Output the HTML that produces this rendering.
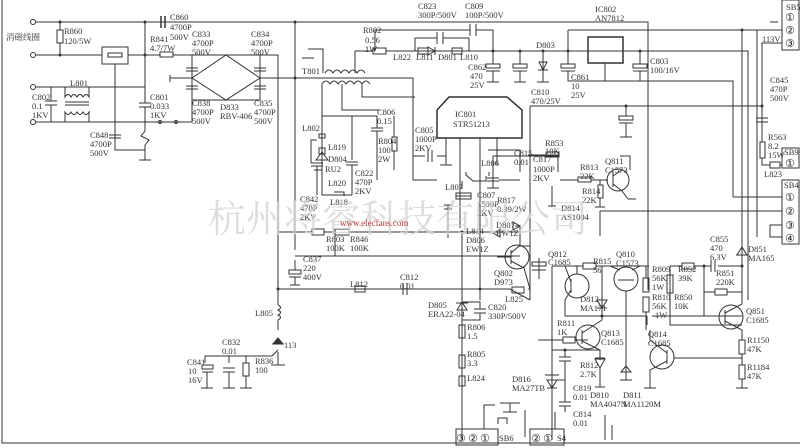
<!DOCTYPE html>
<html><head><meta charset="utf-8"><style>
html,body{margin:0;padding:0;background:#fff;}
svg{display:block;}
text{font-family:"Liberation Serif","Noto Serif CJK SC",serif;font-size:8.5px;fill:#333;}
.c{font-family:"DejaVu Sans",sans-serif;font-size:11px;fill:#222;}
</style></head><body>
<svg width="800" height="448" viewBox="0 0 800 448" xmlns="http://www.w3.org/2000/svg">
<g stroke="#333" stroke-width="1" fill="none">
<path d="M2,0 V443 H800"/>
<circle cx="33" cy="22" r="2.5"/><circle cx="33" cy="55" r="2.5"/>
<circle cx="33" cy="87" r="2.5"/><circle cx="33" cy="122" r="2.5"/>
<path d="M36,22 H648 V290"/>
<path d="M36,55 H102 M128,55 H160 M173,55 H278 V305"/>
<path d="M278,320 V330 M278,352 V365 M271,365 H285"/>
<path d="M278,305 q5,2.5 0,5 q5,2.5 0,5 q5,2.5 0,5"/>
<path d="M272,344 H284 M278,338 L273,344 H283 Z" fill="#333"/>
<path d="M278,350 L272,356 H205 V363 M229,356 V363 M246,356 V363"/>
<rect x="202" y="365" width="11" height="4"/><path d="M202,372 H213 M207,372 V388 M201,388 H213"/>
<path d="M223,368 H235 M223,372 H235 M229,372 V388 M223,388 H235"/>
<rect x="243" y="363" width="6" height="13"/><path d="M246,376 V388 M240,388 H252"/>
<path d="M60,22 V30 M60,43 V55"/><rect x="57" y="30" width="6" height="13"/>
<rect x="102" y="47" width="26" height="17"/><rect x="108" y="53" width="14" height="4"/>
<path d="M115,64 V150 M115,132 V135 M109,135 H121 M109,138 H121 M115,138 V150 H145"/>
<path d="M161,16 V28 M165,16 V28" stroke-width="1.5"/>
<rect x="160" y="52" width="13" height="5"/>
<path d="M36,87 H90 M36,122 H90 M51,87 V101 M45,101 H57 M45,105 H57 M51,105 V122"/>
<path d="M65,87 V97 q3,-5 6,0 q3,-5 6,0 q3,-5 6,0 q3,-5 6,0 V87 M65,122 V112 q3,5 6,0 q3,5 6,0 q3,5 6,0 q3,5 6,0 V122"/>
<path d="M65,102 H89 M65,105 H89"/>
<path d="M90,87 H145 M90,122 H192 V100"/>
<path d="M145,22 V103 M139,103 H151 M139,107 H151 M145,107 V131 l-4,5 l8,4 l-4,5 V160 M139,160 H151"/>
<path d="M158,122 H172"/><circle cx="160" cy="122" r="1.5"/><circle cx="176" cy="122" r="1.5"/>
<path d="M192,78 L226,55 L260,78 L226,100 Z"/>
<path d="M192,55 V100 H226 M186,68 H198 M186,71 H198 M186,86 H198 M186,89 H198"/>
<path d="M260,55 V100 H226 M254,68 H266 M254,71 H266 M254,86 H266 M254,89 H266"/>
<path d="M170,78 H192 M170,75 V82 M260,78 H413 V180 H437"/>
<path d="M295,22 V250"/>
<path d="M308,49 H323 V73 M302,58 H314"/>
<path d="M325,73 q4,-6 8,0 q4,-6 8,0 q4,-6 8,0 q4,-6 8,0 q4,-6 8,0 M355,73 V51"/>
<path d="M322,84 q4,-6 8,0 q4,-6 8,0 q4,-6 8,0 q4,-6 8,0 q4,-6 8,0 q4,-6 8,0"/>
<path d="M322,84 V195 M342,84 V110 H380 M362,84 V97 H415"/>
<path d="M322,116 H377 V128 M371,128 H383 M371,131 H383 M377,131 V145 V180"/>
<rect x="392" y="137" width="5" height="14"/><path d="M394,116 V137 M394,151 V170"/>
<path d="M352,116 V160 M346,162 H358 M346,165 H358 M352,165 V195"/>
<path d="M322,130 V134 M319,134 H325 V138 H319 Z M322,138 V148 M319,148 H325 V154 H319 Z"/>
<path d="M314,170 H322 M311,163 H323 M311,166 H323 M317,140 H311 V163 M317,166 V195"/>
<path d="M316,160 L322,152 L328,160 Z"/>
<path d="M322,195 H352 M334,192 H344 V196"/>
<path d="M355,51 H373 M386,51 H748 V300"/><rect x="373" y="48" width="13" height="6"/>
<path d="M415,51 V38 H437 M443,38 H469 V51 M437,32 V44 M443,32 V44"/>
<path d="M375,51 V30 H470 M476,30 H493 V51 M470,24 V36 M476,24 V36"/>
<rect x="418" y="48" width="10" height="6"/><rect x="452" y="48" width="10" height="6"/>
<path d="M435,47 V55 M428,47 L435,51 L428,55 Z"/>
<path d="M493,51 V64 M486,64 H500 V68 H486 Z M486,71 H500 M493,71 V82 M487,82 H499"/>
<path d="M520,51 V64 M513,64 H527 V68 H513 Z M513,71 H527 M520,71 V82 M514,82 H526"/>
<path d="M543,51 V82 M537,82 H549 M538,70 H548 M539,62 H547 L543,70 Z"/>
<path d="M568,30 V64 M561,64 H575 V68 H561 Z M561,71 H575 M568,71 V81 H640"/>
<rect x="588" y="37" width="35" height="26" stroke-width="1.5"/>
<path d="M605,63 V81 M640,51 V64 M633,64 H647 V68 H633 Z M633,71 H647 M640,71 V81 H733 V197"/>
<path d="M568,30 H742 V300 M762,106 V43 H782 M530,106 H762 V142 M760,142 H765 V158 H760 Z M762,158 V165 H770 M780,165 H782"/>
<rect x="770" y="162" width="10" height="6"/>
<path d="M756,118 H768 M756,122 H768 M762,122 V132"/>
<path d="M626,106 V116 M619,116 H633 V120 H619 Z M619,123 H633 M626,123 V137 M620,137 H632"/>
<path d="M530,106 V300"/>
<path d="M770,22 H778"/>
<path d="M742,30 H782"/>
<path d="M437,110 L449,97 H507 L522,110 V138 H437 Z" stroke-width="1.5"/>
<path d="M413,156 H425 M428,150 V162 M432,150 V162 M437,156 H446 M446,138 V165 M440,165 H452"/>
<path d="M460,138 V228 M480,138 V300 M497,138 V165 M493,178 V156 H530"/>
<path d="M488,150 H520 V172 M466,172 V175 L473,181 H486 V176 M489,172 V176"/>
<path d="M493,168 V188 M487,178 H499 M487,181 H499 M493,181 V188 M487,188 H499 M499,180 H520"/>
<path d="M527,156 H558 M545,156 H558 M528,155 H558 V172 M560,180 H578 M552,186 V206 M548,206 H556"/>
<rect x="546" y="152" width="13" height="5"/><rect x="578" y="177" width="13" height="5"/>
<rect x="598" y="185" width="5" height="13"/><path d="M591,180 H608 M600,180 V185 M600,198 V207 M595,207 H605"/>
<circle cx="618" cy="180" r="11"/>
<path d="M613,173 V187 M613,176 L622,170 M613,184 L622,191 L628,199 M620,156 H630 V170 M628,199 H636"/>
<path d="M448,205 V238 M444,205 H452 M444,209 H452 M456,196 H471 M471,193 V199 M462,181 V189"/>
<rect x="456" y="193" width="15" height="6"/>
<path d="M278,232 H312 M324,232 H335 M350,232 H520 M278,289 H510 M295,256 H520 M335,232 V256"/>
<rect x="312" y="229" width="12" height="6"/><rect x="335" y="229" width="14" height="6"/>
<rect x="355" y="286" width="10" height="6"/><path d="M403,283 V295 M407,283 V295"/>
<path d="M295,260 V270 M289,270 H301 V274 H289 Z M289,277 H301 M295,277 V285 M290,285 H300"/>
<path d="M462,232 V440 M462,300 V310 M456,303 H468 M457,310 H467 L462,302 Z M462,302 H480 V309 M474,309 H486 M474,313 H486 M480,313 V320 H462"/>
<rect x="459" y="325" width="6" height="13"/><rect x="459" y="355" width="6" height="13"/><rect x="459" y="376" width="6" height="10"/>
<path d="M480,228 V300 M470,289 H510 L530,300 M528,289 H530"/>
<rect x="512" y="287" width="12" height="6"/>
<circle cx="517" cy="257" r="12"/>
<path d="M511,250 V264 M511,253 L519,246 H530 M511,261 L524,268 L530,289 M497,257 H511 M515,226 H520 V246"/>
<path d="M493,233 L500,229 V237 Z M520,226 L513,230 V222 Z"/>
<path d="M539,258 V270 M532,262 H546 V266 H532 Z M532,270 H546 M539,270 V279"/>
<path d="M552,266 H583 M596,266 H647 M552,266 V440 M538,340 H563 M575,340 H588"/>
<rect x="583" y="263" width="13" height="6"/><rect x="563" y="337" width="12" height="6"/>
<circle cx="577" cy="286" r="12"/>
<path d="M571,279 V293 M571,282 L565,266 M571,290 L565,300 V316 H647 M577,266 V274 M602,266 V320"/>
<path d="M597,300 H607 L602,308 Z M597,308 H607"/>
<circle cx="626" cy="279" r="12"/>
<path d="M618,280 H634 M620,270 L610,266 M632,270 L640,266 M626,291 V316 M626,316 V380 M620,380 H632 M621,372 H631 L626,366 Z"/>
<circle cx="588" cy="337" r="12"/>
<path d="M582,330 V344 M582,333 L602,320 M582,341 L600,350 V360 M595,359 H605 L600,368 Z M595,358 H605 M600,368 V387 M595,387 H605 M552,350 H600"/>
<path d="M565,350 V357 M559,357 H571 M559,361 H571 M565,361 V380 H552 M565,380 V402 M559,402 H571 M559,406 H571 M565,406 V412"/>
<path d="M545,375 H559 M547,380 L552,388 L557,380 Z M547,388 H557"/>
<path d="M646,266 V278 M643,266 H649 M643,278 H649 V292 H643 Z M643,297 H649 V312 H643 Z M646,312 V330"/>
<circle cx="662" cy="357" r="12"/>
<path d="M667,350 V364 M667,353 L650,340 V330 M667,361 L650,370 V388 M644,388 H656 M674,358 H742"/>
<path d="M670,266 V325 H742 M670,266 H682 M694,266 H704 M698,266 H711 M718,266 H742"/>
<rect x="682" y="263" width="12" height="6"/><rect x="667" y="275" width="6" height="18"/>
<path d="M711,260 V272 M715,260 V272 M704,266 V316 H720 M704,292 H715 M727,292 H742"/>
<rect x="715" y="289" width="12" height="6"/>
<circle cx="731" cy="317" r="12"/>
<path d="M725,310 V324 M725,313 L742,304 V230 M725,321 L742,330 V340 M742,266 V240 M736,255 H748 M737,255 L742,247 L747,255 Z"/>
<rect x="739" y="340" width="6" height="14"/><path d="M742,354 V365"/><rect x="739" y="365" width="6" height="14"/><path d="M742,379 V388 M736,388 H748"/>
<path d="M605,415 V440 M612,425 V440 M525,437 V410 M500,403 H510 V412 M503,412 H517 M505,403 H520"/>
<path d="M647,316 V325 M652,316 H742"/>
<path d="M733,197 H782 M757,30 V237 M757,211 H782 M770,225 H782 M770,225 V237 H782 M600,211 H757 M600,211 V236"/>
<rect x="782" y="0" width="17" height="50"/>
<rect x="782" y="148" width="17" height="20"/>
<rect x="782" y="180" width="17" height="64"/>
<rect x="456" y="429" width="42" height="16"/><rect x="530" y="429" width="34" height="16"/>
<path d="M484,429 V405 H495 M555,429 V412"/>
<path d="M498,424 V418 H507 V424"/>
</g>
<g fill="#333">
<circle cx="145" cy="22" r="1.5"/><circle cx="145" cy="55" r="1.5"/><circle cx="60" cy="22" r="1.5"/><circle cx="60" cy="55" r="1.5"/>
<circle cx="295" cy="22" r="1.5"/><circle cx="295" cy="78" r="1.5"/><circle cx="278" cy="289" r="1.5"/><circle cx="462" cy="232" r="1.5"/>
<circle cx="493" cy="51" r="1.5"/><circle cx="520" cy="51" r="1.5"/><circle cx="543" cy="51" r="1.5"/><circle cx="568" cy="51" r="1.5"/><circle cx="640" cy="51" r="1.5"/>
<circle cx="762" cy="106" r="1.5"/><circle cx="626" cy="106" r="1.5"/><circle cx="742" cy="30" r="1.5"/><circle cx="480" cy="289" r="1.5"/>
<circle cx="565" cy="350" r="1.5"/><circle cx="602" cy="316" r="1.5"/><circle cx="742" cy="266" r="1.5"/><circle cx="704" cy="266" r="1.5"/>
</g>
<g>
<text x="6" y="40" font-size="9">消磁线圈</text>
<text x="64" y="34">R860</text><text x="64" y="44">120/5W</text>
<text x="170" y="20">C860</text><text x="170" y="30">4700P</text><text x="170" y="40">500V</text>
<text x="150" y="42">R841</text><text x="150" y="51">4.7/7W</text>
<text x="192" y="37">C833</text><text x="192" y="46">4700P</text><text x="192" y="55">500V</text>
<text x="251" y="37">C834</text><text x="251" y="46">4700P</text><text x="251" y="55">500V</text>
<text x="70" y="86">L801</text>
<text x="32" y="100">C802</text><text x="32" y="109">0.1</text><text x="32" y="118">1KV</text>
<text x="150" y="100">C801</text><text x="150" y="109">0.033</text><text x="150" y="118">1KV</text>
<text x="192" y="106">C838</text><text x="192" y="115">4700P</text><text x="192" y="124">500V</text>
<text x="220" y="110">D833</text><text x="220" y="119">RBV-406</text>
<text x="254" y="106">C835</text><text x="254" y="115">4700P</text><text x="254" y="124">500V</text>
<text x="90" y="138">C848</text><text x="90" y="147">4700P</text><text x="90" y="156">500V</text>
<text x="302" y="74">T801</text>
<text x="302" y="131">L802</text><text x="328" y="150">L819</text><text x="328" y="162">D804</text><text x="325" y="172">RU2</text><text x="328" y="186">L820</text>
<text x="355" y="176">C822</text><text x="355" y="185">470P</text><text x="355" y="194">2KV</text>
<text x="300" y="202">C842</text><text x="300" y="211">470P</text><text x="300" y="220">2KV</text><text x="330" y="205">L818</text>
<text x="377" y="115">C806</text><text x="377" y="124">0.15</text>
<text x="378" y="144">R804</text><text x="378" y="153">100</text><text x="378" y="162">2W</text>
<text x="363" y="33">R802</text><text x="365" y="43">0.56</text><text x="365" y="52">1W</text>
<text x="418" y="9">C823</text><text x="418" y="18">300P/500V</text><text x="465" y="9">C809</text><text x="465" y="18">100P/500V</text>
<text x="393" y="60">L822</text><text x="416" y="60">L811</text><text x="438" y="60">D801</text><text x="460" y="60">L810</text>
<text x="468" y="70">C862</text><text x="470" y="79">470</text><text x="470" y="88">25V</text>
<text x="531" y="95">C810</text><text x="531" y="104">470/25V</text>
<text x="536" y="48">D803</text>
<text x="595" y="12">IC802</text><text x="595" y="21">AN7812</text>
<text x="571" y="80">C861</text><text x="571" y="89">10</text><text x="571" y="98">25V</text>
<text x="650" y="64">C803</text><text x="650" y="73">100/16V</text>
<text x="455" y="117">IC801</text><text x="453" y="127">STR51213</text>
<text x="415" y="133">C805</text><text x="415" y="142">1000P</text><text x="415" y="151">2KV</text>
<text x="481" y="166">L806</text><text x="445" y="190">L807</text>
<text x="514" y="156">C815</text><text x="514" y="165">0.01</text>
<text x="533" y="162">C817</text><text x="533" y="172">1000P</text><text x="533" y="181">2KV</text>
<text x="545" y="146">R853</text><text x="545" y="154">10K</text>
<text x="580" y="170">R813</text><text x="580" y="179">22K</text><text x="582" y="194">R814</text><text x="582" y="203">22K</text>
<text x="605" y="164">Q811</text><text x="605" y="173">C1573</text>
<text x="477" y="198">C807</text><text x="477" y="207">1500P</text><text x="477" y="216">2KV</text>
<text x="497" y="203">R817</text><text x="497" y="212">0.39/2W</text>
<text x="561" y="211">D814</text><text x="561" y="220">AS1004</text>
<text x="786" y="10" font-size="7">SB5</text><text class="c" x="785" y="21">①</text><text class="c" x="785" y="34">②</text><text class="c" x="785" y="47">③</text>
<text x="762" y="42">113V</text>
<text x="770" y="83">C845</text><text x="770" y="92">470P</text><text x="770" y="101">500V</text>
<text x="768" y="140">R563</text><text x="768" y="149">8.2</text><text x="768" y="158">15W</text><text x="764" y="177">L823</text>
<text x="784" y="155" font-size="7">SB9</text><text class="c" x="785" y="167">①</text>
<text x="784" y="188" font-size="7">SB4</text><text class="c" x="785" y="201">①</text><text class="c" x="785" y="215">②</text><text class="c" x="785" y="229">③</text><text class="c" x="785" y="242">④</text>
<text x="326" y="242">R803</text><text x="326" y="251">100K</text><text x="350" y="242">R846</text><text x="350" y="251">100K</text>
<text x="303" y="262">C837</text><text x="303" y="271">220</text><text x="303" y="280">400V</text>
<text x="350" y="287">L812</text><text x="400" y="280">C812</text><text x="400" y="289">0.01</text>
<text x="466" y="234">L814</text><text x="466" y="243">D806</text><text x="466" y="252">EW1Z</text>
<text x="496" y="228">D807</text><text x="496" y="236">EW1Z</text>
<text x="494" y="276">Q802</text><text x="494" y="285">D973</text><text x="505" y="302">L825</text>
<text x="428" y="308">D805</text><text x="428" y="317">ERA22-04</text><text x="488" y="310">C820</text><text x="488" y="319">330P/500V</text>
<text x="467" y="330">R806</text><text x="467" y="339">1.5</text><text x="467" y="357">R805</text><text x="467" y="366">3.3</text><text x="467" y="381">L824</text>
<text x="512" y="382">D816</text><text x="512" y="391">MA27TB</text>
<text x="548" y="257">Q812</text><text x="548" y="265">C1685</text><text x="593" y="264">R815</text><text x="593" y="273">56</text>
<text x="616" y="257">Q810</text><text x="616" y="266">C1573</text>
<text x="580" y="302">D812</text><text x="580" y="311">MA171</text>
<text x="557" y="326">R811</text><text x="557" y="335">1K</text><text x="601" y="336">Q813</text><text x="601" y="345">C1685</text>
<text x="580" y="368">R812</text><text x="580" y="377">2.7K</text>
<text x="573" y="391">C819</text><text x="573" y="400">0.01</text><text x="573" y="417">C814</text><text x="573" y="426">0.01</text>
<text x="590" y="398">D810</text><text x="590" y="407">MA4047N</text><text x="623" y="398">D811</text><text x="623" y="407">MA1120M</text>
<text x="652" y="272">R809</text><text x="652" y="281">56K</text><text x="652" y="290">1W</text>
<text x="652" y="300">R810</text><text x="652" y="309">56K</text><text x="655" y="318">1W</text>
<text x="674" y="300">R850</text><text x="674" y="309">10K</text>
<text x="648" y="337">Q814</text><text x="648" y="346">C1685</text>
<text x="678" y="272">R852</text><text x="678" y="281">39K</text>
<text x="710" y="242">C855</text><text x="710" y="251">470</text><text x="710" y="260">6.3V</text>
<text x="716" y="276">R851</text><text x="716" y="285">220K</text>
<text x="748" y="252">D851</text><text x="748" y="261">MA165</text>
<text x="746" y="314">Q851</text><text x="746" y="323">C1685</text>
<text x="747" y="343">R1150</text><text x="747" y="352">47K</text><text x="747" y="370">R1184</text><text x="747" y="379">47K</text>
<text x="255" y="364">R836</text><text x="255" y="373">100</text>
<text x="187" y="365">C841</text><text x="188" y="374">10</text><text x="188" y="383">16V</text>
<text x="222" y="345">C832</text><text x="222" y="354">0.01</text>
<text x="255" y="316">L805</text><text x="284" y="348">113</text>
<text class="c" x="456" y="442">③</text><text class="c" x="468" y="442">②</text><text class="c" x="480" y="442">①</text><text x="499" y="441" font-size="7">SB6</text>
<text class="c" x="531" y="442">②</text><text class="c" x="543" y="442">①</text><text x="557" y="441" font-size="7">S4</text>
<text x="208" y="232" style="font-family:'Noto Serif CJK SC',serif;font-size:38px;fill:#d4d4d4;opacity:0.8">杭州将睿科技有限公司</text>
<text x="340" y="226" style="font-size:9px;fill:#c04040">www.elecfans.com</text>
</g>
</svg>
</body></html>
